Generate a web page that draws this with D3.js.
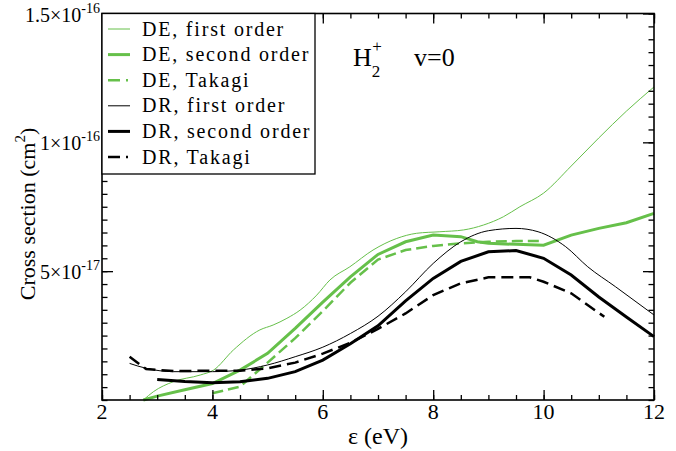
<!DOCTYPE html>
<html>
<head>
<meta charset="utf-8">
<script src="https://cdn.jsdelivr.net/npm/d3@7"></script>
<style>
  body { margin: 0; background: #fff; }
  text { font-family: "Liberation Serif", "Times New Roman", serif; fill: #000; }
</style>
</head>
<body>
<div id="chart-area"></div>
<script>

// energies in eV, cross sections in units of 1e-17 cm^2
var deFirstE = [2.75, 2.93, 3.29, 3.78, 4.02, 4.38, 4.86, 5.10, 5.35, 5.59, 5.89, 6.13, 6.49, 6.91, 7.34, 7.70, 8.12, 8.55, 8.91, 9.27, 9.57, 10.0, 10.5, 11.0, 11.5, 12.0];
var deFirst  = [0.0, 0.32, 0.71, 0.97, 1.16, 1.94, 2.72, 2.91, 3.17, 3.49, 4.07, 4.66, 5.17, 5.82, 6.27, 6.47, 6.53, 6.60, 6.79, 7.11, 7.50, 8.03, 9.08, 10.17, 11.21, 12.15];

var deSecondE = [2.75, 3.0, 3.5, 4.0, 4.5, 5.0, 5.5, 6.0, 6.5, 7.0, 7.5, 8.0, 8.5, 8.8, 9.0, 9.5, 10.0, 10.5, 11.0, 11.5, 12.0];
var deSecond  = [0.0, 0.15, 0.40, 0.64, 1.16, 1.81, 2.78, 3.80, 4.78, 5.65, 6.14, 6.40, 6.34, 6.14, 6.08, 6.04, 6.01, 6.40, 6.66, 6.88, 7.24];

var deTakagiE = [4.0, 4.5, 5.0, 5.5, 6.0, 6.5, 7.0, 7.5, 8.0, 8.5, 9.0, 9.5, 10.0];
var deTakagi  = [0.26, 0.52, 1.45, 2.40, 3.45, 4.55, 5.45, 5.82, 5.98, 6.08, 6.14, 6.17, 6.17];

var drFirstE = [2.5, 2.8, 3.3, 4.0, 4.5, 5.0, 5.5, 6.0, 6.5, 7.0, 7.5, 8.0, 8.5, 9.0, 9.5, 9.9, 10.4, 10.8, 11.3, 12.0];
var drFirst  = [1.42, 1.23, 1.10, 1.10, 1.16, 1.36, 1.68, 2.05, 2.58, 3.25, 4.20, 5.30, 6.14, 6.57, 6.66, 6.53, 5.95, 5.17, 4.40, 3.30];

var drSecondE = [3.0, 3.5, 4.0, 4.5, 5.0, 5.5, 6.0, 6.5, 7.0, 7.5, 8.0, 8.5, 9.0, 9.5, 10.0, 10.5, 11.0, 11.5, 12.0];
var drSecond  = [0.80, 0.72, 0.67, 0.71, 0.84, 1.10, 1.55, 2.18, 2.88, 3.85, 4.72, 5.38, 5.75, 5.80, 5.50, 4.85, 4.00, 3.22, 2.46];

var drTakagiE = [2.5, 2.7, 2.8, 3.3, 4.0, 4.5, 5.0, 5.5, 6.0, 6.5, 7.0, 7.5, 8.0, 8.5, 9.0, 9.5, 9.75, 10.0, 10.5, 11.1];
var drTakagi  = [1.68, 1.36, 1.20, 1.12, 1.14, 1.14, 1.23, 1.45, 1.80, 2.22, 2.76, 3.36, 4.07, 4.53, 4.76, 4.76, 4.76, 4.59, 4.14, 3.23];

var seriesNames = ["DE, first order", "DE, second order", "DE, Takagi",
                   "DR, first order", "DR, second order", "DR, Takagi"];

var xTicks = [2, 4, 6, 8, 10, 12];
var yTicks = [5, 10, 15];
var yTickBase = ["5\u00d710", "1\u00d710", "1.5\u00d710"];
var yTickExp  = ["-17", "-16", "-16"];

var green = "#66c04a";

var series = [
  { e: deFirstE,  v: deFirst,  color: green,  width: 1,   dash: null,     curve: d3.curveMonotoneX },
  { e: deSecondE, v: deSecond, color: green,  width: 3,   dash: null,     curve: d3.curveLinear },
  { e: deTakagiE, v: deTakagi, color: green,  width: 2.5, dash: "11,5",   curve: d3.curveLinear },
  { e: drFirstE,  v: drFirst,  color: "#000", width: 1,   dash: null,     curve: d3.curveMonotoneX },
  { e: drSecondE, v: drSecond, color: "#000", width: 3,   dash: null,     curve: d3.curveLinear },
  { e: drTakagiE, v: drTakagi, color: "#000", width: 2.5, dash: "12,6",   curve: d3.curveLinear }
];

var W = 676, H = 451;
var ml = 102, mr = 654, mt = 13.5, mb = 400;

var svg = d3.select("#chart-area").append("svg")
  .attr("width", W)
  .attr("height", H);

var x = d3.scaleLinear().domain([2, 12]).range([ml, mr]);
var y = d3.scaleLinear().domain([0, 15]).range([mb, mt]);

var xMinor = d3.range(2, 12.001, 0.5);
var yMinor = d3.range(0, 15.001, 0.5);

// curves first, frame on top
var line = d3.line()
  .x(function(d) { return x(d[0]); })
  .y(function(d) { return y(d[1]); });

series.forEach(function(s) {
  var pts = s.e.map(function(e, i) { return [e, s.v[i]]; });
  svg.append("path")
    .datum(pts)
    .attr("fill", "none")
    .attr("stroke", s.color)
    .attr("stroke-width", s.width)
    .attr("stroke-dasharray", s.dash)
    .attr("d", line.curve(s.curve));
});

// ticks on all four sides, pointing inward
function tickAxis(axis, scale, vals, size, tr) {
  var g = svg.append("g")
    .attr("transform", tr)
    .call(axis(scale).tickValues(vals).tickSize(-size).tickFormat(""));
  g.select(".domain").remove();
  g.selectAll("line").attr("stroke", "#000").attr("stroke-width", 1.3);
  return g;
}

tickAxis(d3.axisBottom, x, xMinor, 5, "translate(0," + mb + ")");
tickAxis(d3.axisBottom, x, xTicks, 10, "translate(0," + mb + ")");
tickAxis(d3.axisTop, x, xMinor, 5, "translate(0," + mt + ")");
tickAxis(d3.axisTop, x, xTicks, 10, "translate(0," + mt + ")");
tickAxis(d3.axisLeft, y, yMinor, 5.5, "translate(" + ml + ",0)");
tickAxis(d3.axisLeft, y, yTicks, 11, "translate(" + ml + ",0)");
tickAxis(d3.axisRight, y, yMinor, 5.5, "translate(" + mr + ",0)");
tickAxis(d3.axisRight, y, yTicks, 11, "translate(" + mr + ",0)");

svg.append("rect")
  .attr("x", ml)
  .attr("y", mt)
  .attr("width", mr - ml)
  .attr("height", mb - mt)
  .attr("fill", "none")
  .attr("stroke", "#000")
  .attr("stroke-width", 1.6);

// x tick labels
svg.selectAll(".xlab")
  .data(xTicks)
  .enter().append("text")
  .attr("class", "xlab")
  .attr("x", function(d) { return x(d); })
  .attr("y", 419)
  .attr("text-anchor", "middle")
  .style("font-size", "22px")
  .text(function(d) { return d; });

// y tick labels with exponent
var yl = svg.selectAll(".ylab")
  .data(yTicks)
  .enter().append("text")
  .attr("class", "ylab")
  .attr("x", 100)
  .attr("y", function(d) { return y(d) + 8; })
  .attr("text-anchor", "end")
  .style("font-size", "20px");
yl.append("tspan").text(function(d, i) { return yTickBase[i]; });
yl.append("tspan")
  .attr("dy", -9)
  .style("font-size", "14px")
  .text(function(d, i) { return yTickExp[i]; });

// axis titles
svg.append("text")
  .attr("x", 378)
  .attr("y", 444)
  .attr("text-anchor", "middle")
  .style("font-size", "24px")
  .text("\u03b5  (eV)");

var ytitle = svg.append("text")
  .attr("transform", "translate(35,214) rotate(-90)")
  .attr("text-anchor", "middle")
  .style("font-size", "22px");
ytitle.append("tspan").text("Cross section (cm");
ytitle.append("tspan").attr("dy", -10).style("font-size", "15px").text("2");
ytitle.append("tspan").attr("dy", 10).text(")");

// annotation
var ann = svg.append("text")
  .attr("x", 353)
  .attr("y", 66)
  .style("font-size", "26px");
ann.append("tspan").text("H");
ann.append("tspan").attr("dy", 11).style("font-size", "17px").text("2");
ann.append("tspan").attr("dx", -8).attr("dy", -25).style("font-size", "17px").text("+");
ann.append("tspan").attr("x", 414).attr("y", 66).text("v=0");

// legend
svg.append("rect")
  .attr("x", ml)
  .attr("y", mt)
  .attr("width", 213)
  .attr("height", 160.5)
  .attr("fill", "#fff")
  .attr("stroke", "#000")
  .attr("stroke-width", 1.3);

var legendStyle = [
  { dash: null, width: 1 }, { dash: null, width: 3 }, { dash: "12,6,2,6", width: 2.5 },
  { dash: null, width: 1 }, { dash: null, width: 3 }, { dash: "12,6,2,6", width: 2.5 }
];

var leg = svg.selectAll(".legend")
  .data(seriesNames)
  .enter().append("g")
  .attr("class", "legend")
  .attr("transform", function(d, i) { return "translate(0," + (29 + i * 25.6) + ")"; });

leg.append("line")
  .attr("x1", 108)
  .attr("x2", 130)
  .attr("stroke", function(d, i) { return series[i].color; })
  .attr("stroke-width", function(d, i) { return legendStyle[i].width; })
  .attr("stroke-dasharray", function(d, i) { return legendStyle[i].dash; });

leg.append("text")
  .attr("x", 142)
  .attr("y", 6.5)
  .style("font-size", "20px")
  .style("letter-spacing", "1.8px")
  .text(function(d) { return d; });

</script>
</body>
</html>
